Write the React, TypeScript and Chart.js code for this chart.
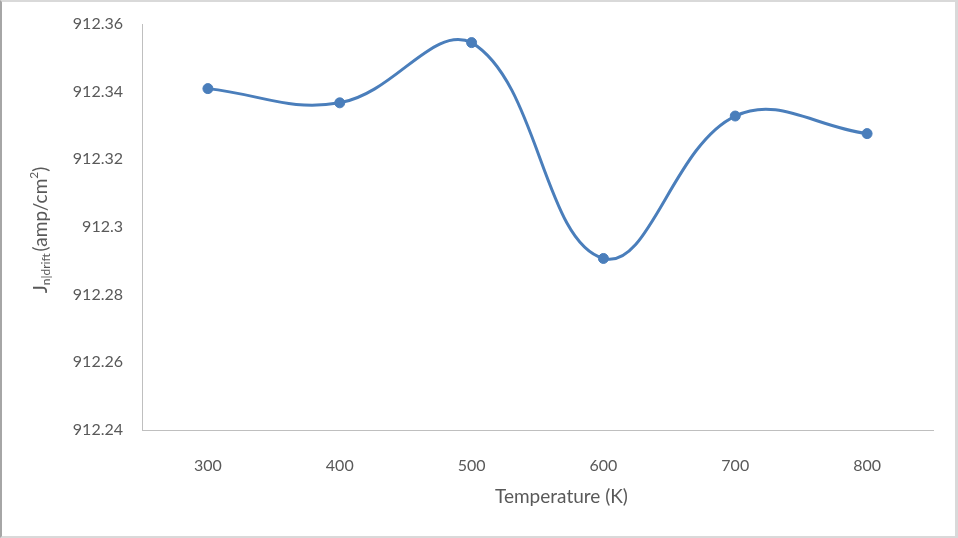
import React, { useEffect, useRef } from "react";
import { Chart, registerables } from "chart.js";

Chart.register(...registerables);

const categories = ["300", "400", "500", "600", "700", "800"];
const currentDensity = [912.3409, 912.3367, 912.3545, 912.2907, 912.3328, 912.3276];
const yMin = 912.24;
const yMax = 912.36;
const yStep = 0.02;
const xTitle = "Temperature (K)";
const yTitleMain = "J";
const yTitleSub = "n|drift";
const yTitleRest = "(amp/cm";
const yTitleSup = "2";
const yTitleEnd = ")";

const FONT = "Lato, 'Open Sans', sans-serif";
const TEXT = "#595959";

const titlesPlugin = {
  id: "customTitles",
  afterDraw(chart: any) {
    const ctx = chart.ctx as CanvasRenderingContext2D;
    const area = chart.chartArea;
    ctx.save();
    ctx.fillStyle = TEXT;
    // x title
    ctx.font = `19px ${FONT}`;
    ctx.textAlign = "center";
    ctx.textBaseline = "middle";
    ctx.fillText(xTitle, (area.left + area.right) / 2 + 24, 497);
    // y title (rotated, composed)
    const big = `19px ${FONT}`;
    const small = `12px ${FONT}`;
    const parts: [string, string, number][] = [
      [yTitleMain, big, 0],
      [yTitleSub, small, 5],
      [yTitleRest, big, 0],
      [yTitleSup, small, -7],
      [yTitleEnd, big, 0],
    ];
    let total = 0;
    for (const [t, f] of parts) {
      ctx.font = f;
      total += ctx.measureText(t).width;
    }
    total += 2;
    ctx.translate(41, 230);
    ctx.rotate(-Math.PI / 2);
    ctx.textAlign = "left";
    ctx.textBaseline = "middle";
    let x = -total / 2;
    for (const [t, f, dy] of parts) {
      ctx.font = f;
      ctx.fillText(t, x, dy);
      x += ctx.measureText(t).width + (t === yTitleSub ? 2 : 0);
    }
    ctx.restore();
  },
};

export default function App() {
  const ref = useRef<HTMLCanvasElement>(null);
  useEffect(() => {
    document.body.style.margin = "0";
    const chart = new Chart(ref.current!, {
      type: "line",
      data: {
        labels: categories,
        datasets: [
          {
            data: currentDensity,
            borderColor: "#4a7ebb",
            backgroundColor: "#4a7ebb",
            borderWidth: 3,
            pointRadius: 5,
            pointBorderWidth: 1,
            pointBorderColor: "#4a7ebb",
            pointBackgroundColor: "#4a7ebb",
            tension: 0.4,
            fill: false,
          },
        ],
      },
      options: {
        animation: false,
        responsive: false,
        layout: { padding: { top: 24, right: 25, left: 0, bottom: 0 } },
        plugins: {
          legend: { display: false },
          tooltip: { enabled: false },
          title: { display: false },
        },
        scales: {
          x: {
            type: "category",
            offset: true,
            grid: { display: false, drawTicks: false },
            border: { display: true, color: "#bfbfbf", width: 1 },
            ticks: { color: TEXT, font: { family: FONT, size: 16 }, padding: 26 },
            afterFit: (s: any) => {
              s.height = 108;
              s.paddingLeft = 0;
              s.paddingRight = 0;
            },
          },
          y: {
            min: yMin,
            max: yMax,
            grid: { display: false, drawTicks: false },
            border: { display: true, color: "#bfbfbf", width: 1 },
            ticks: {
              stepSize: yStep,
              color: TEXT,
              font: { family: FONT, size: 16 },
              padding: 19,
              callback: (v: any) => String(Number(Number(v).toFixed(2))),
            },
            afterFit: (s: any) => {
              s.width = 142;
              s.paddingTop = 0;
              s.paddingBottom = 0;
            },
          },
        },
      },
      plugins: [titlesPlugin],
    });
    return () => chart.destroy();
  }, []);
  return (
    <div style={{ position: "relative", width: 958, height: 538, background: "#fff" }}>
      <canvas ref={ref} width={958} height={538} style={{ position: "absolute", left: 0, top: 0 }} />
      <div
        style={{
          position: "absolute",
          left: 0,
          top: 0,
          width: 958,
          height: 538,
          boxSizing: "border-box",
          borderTop: "2px solid #d9d9d9",
          borderLeft: "2px solid #a6a6a6",
          borderRight: "3px solid #d9d9d9",
          borderBottom: "2px solid #d9d9d9",
          pointerEvents: "none",
        }}
      />
    </div>
  );
}
